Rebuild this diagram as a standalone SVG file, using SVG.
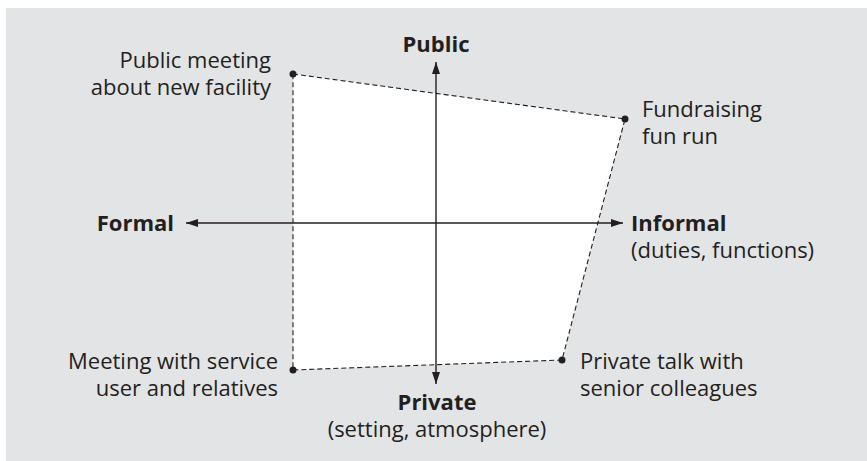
<svg xmlns="http://www.w3.org/2000/svg" width="867" height="461" viewBox="0 0 867 461">
<style>
.t{font-family:"Open Sans","Noto Sans",sans-serif;font-size:22px;fill:#231f20}
.b{font-weight:bold}
.dash{fill:none;stroke:#231f20;stroke-width:1.1;stroke-dasharray:5 3}
.axis{stroke:#231f20;stroke-width:1.4;fill:none}
.dot{fill:#231f20}
</style>
<defs>
<marker id="ah" viewBox="0 0 12 8" refX="12" refY="4" markerWidth="12" markerHeight="8" markerUnits="userSpaceOnUse" orient="auto-start-reverse">
<path d="M0,0 L12,4 L0,8 z" fill="#231f20"/>
</marker>
</defs>
<rect x="6" y="8" width="861" height="453" fill="#e3e4e6"/>
<g id="area">
<polygon points="293,74 625,119 562,360 293,370" fill="#ffffff"/>
</g>
<g id="connectors">
<polygon class="dash" points="293,74 625,119 562,360 293,370"/>
<line class="axis" x1="436" y1="62" x2="436" y2="384" marker-start="url(#ah)" marker-end="url(#ah)"/>
<line class="axis" x1="186" y1="223" x2="623" y2="223" marker-start="url(#ah)" marker-end="url(#ah)"/>
</g>
<g id="axis-public"><text class="t b" x="436" y="52" text-anchor="middle">Public</text></g>
<g id="axis-private"><text class="t b" x="437" y="410" text-anchor="middle">Private</text><text class="t" x="437" y="437" text-anchor="middle">(setting, atmosphere)</text></g>
<g id="axis-formal"><text class="t b" x="174" y="231" text-anchor="end">Formal</text></g>
<g id="axis-informal"><text class="t b" x="631" y="231">Informal</text><text class="t" x="631" y="258">(duties, functions)</text></g>
<g id="public-meeting"><circle class="dot" cx="293" cy="74" r="3.5"/><text class="t" x="271" y="68" text-anchor="end">Public meeting</text><text class="t" x="271" y="95" text-anchor="end">about new facility</text></g>
<g id="fun-run"><circle class="dot" cx="625" cy="119" r="3.5"/><text class="t" x="642" y="117">Fundraising</text><text class="t" x="642" y="144">fun run</text></g>
<g id="service-user"><circle class="dot" cx="293" cy="370" r="3.5"/><text class="t" x="278" y="369" text-anchor="end">Meeting with service</text><text class="t" x="278" y="396" text-anchor="end">user and relatives</text></g>
<g id="private-talk"><circle class="dot" cx="562" cy="360" r="3.5"/><text class="t" x="580" y="369">Private talk with</text><text class="t" x="580" y="396">senior colleagues</text></g>
</svg>
